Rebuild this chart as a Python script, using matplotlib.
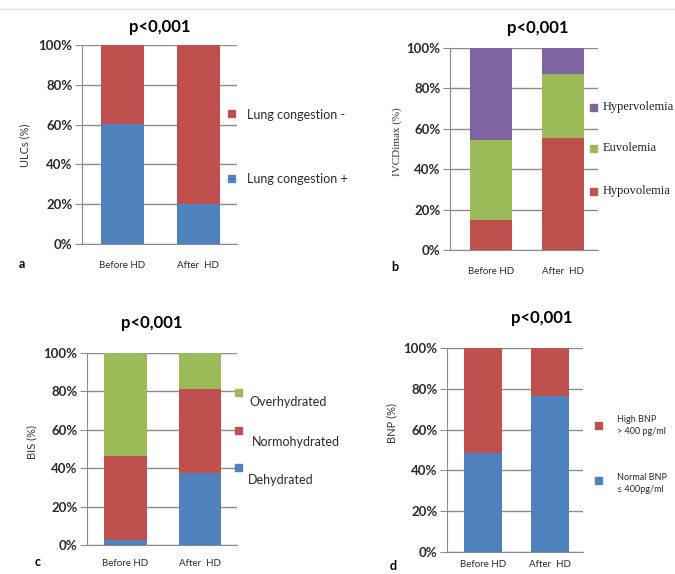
import matplotlib
matplotlib.use("Agg")
import matplotlib.pyplot as plt
from matplotlib.ticker import PercentFormatter
from matplotlib.lines import Line2D

plt.rcParams['font.family'] = ['Lato', 'DejaVu Sans']

BLUE = '#4F81BD'
RED = '#C0504D'
GREEN = '#9BBB59'
PURPLE = '#8064A2'

groups = ['Before HD', 'After  HD']

# a: lung ultrasound comets
ulc_pos = [60.5, 20.0]
ulc_neg = [39.5, 80.0]

# b: IVC diameter
ivc_hypo = [15.0, 55.5]
ivc_euvo = [39.5, 31.5]
ivc_hyper = [45.5, 13.0]

# c: bioimpedance
bis_dehy = [2.5, 37.5]
bis_normo = [44.0, 43.5]
bis_over = [53.5, 19.0]

# d: BNP
bnp_normal = [48.5, 76.5]
bnp_high = [51.5, 23.5]

W, H = 675, 574
fig = plt.figure(figsize=(W / 100, H / 100), dpi=100)
fig.add_artist(Line2D([0, 1], [1 - 9 / H, 1 - 9 / H], color='#e4e4e4', lw=1))


def px_axes(x0, y0, x1, y1):
    return fig.add_axes([x0 / W, 1 - y1 / H, (x1 - x0) / W, (y1 - y0) / H])


def stacked(ax, layers, xlim, width, xpad):
    bottom = [0, 0]
    for vals, col in layers:
        ax.bar(range(len(groups)), vals, width, bottom=bottom, color=col, zorder=3)
        bottom = [b + v for b, v in zip(bottom, vals)]
    ax.set_xlim(*xlim)
    ax.set_ylim(0, 100)
    ax.set_yticks(range(0, 101, 20))
    ax.yaxis.set_major_formatter(PercentFormatter(decimals=0))
    ax.grid(axis='y', color='#8c8c8c', lw=1, zorder=0)
    for s in ['top', 'right']:
        ax.spines[s].set_visible(False)
    for s in ['left', 'bottom']:
        ax.spines[s].set_color('#8c8c8c')
    ax.tick_params(axis='y', length=5, color='#8c8c8c', labelsize=9.5,
                   labelcolor='#2a2a2a', pad=2)
    for t in ax.get_yticklabels():
        t.set_fontweight('bold')
    ax.set_xticks(range(len(groups)))
    ax.set_xticklabels(groups, fontsize=7, color='#2a2a2a')
    ax.tick_params(axis='x', length=0, pad=xpad)


def ftext(x, y, s, **kw):
    fig.text(x / W, 1 - y / H, s, **kw)


def square(x, y, col, size=7):
    fig.add_artist(plt.Rectangle(((x - size / 2) / W, 1 - (y + size / 2) / H),
                                 size / W, size / H, color=col, transform=fig.transFigure))


# panel a
ax = px_axes(82, 45, 237, 244)
stacked(ax, [(ulc_pos, BLUE), (ulc_neg, RED)], (-0.533, 1.507), 0.566, 12)
ftext(160, 27, 'p<0,001', fontsize=12, fontweight='bold', ha='center', va='center')
ftext(25, 145, 'ULCs (%)', fontsize=8, rotation=90, ha='center', va='center', color='#333333')
ftext(22, 264, 'a', fontsize=9, fontweight='bold', ha='center', va='center')
square(231, 113, RED)
ftext(247, 115, 'Lung congestion -', fontsize=9, va='center', color='#2a2a2a')
square(231, 178, BLUE)
ftext(247, 179, 'Lung congestion +', fontsize=9, va='center', color='#2a2a2a')

# panel b
ax = px_axes(450, 48, 598, 250)
stacked(ax, [(ivc_hypo, RED), (ivc_euvo, GREEN), (ivc_hyper, PURPLE)], (-0.569, 1.486), 0.57, 12)
ftext(538, 28, 'p<0,001', fontsize=12, fontweight='bold', ha='center', va='center')
ftext(397, 142, 'IVCDimax (%)', fontsize=8, rotation=90, ha='center', va='center',
      color='#333333', family='Liberation Serif')
ftext(395, 267, 'b', fontsize=9, fontweight='bold', ha='center', va='center')
for yy, col, lab in [(107, PURPLE, 'Hypervolemia'), (148, GREEN, 'Euvolemia'),
                     (191, RED, 'Hypovolemia')]:
    square(593, yy, col)
    ftext(603, yy, lab, fontsize=9, va='center', color='#222222', family='Liberation Serif')

# panel c
ax = px_axes(87, 353, 237, 545)
stacked(ax, [(bis_dehy, BLUE), (bis_normo, RED), (bis_over, GREEN)], (-0.517, 1.497), 0.57, 10)
ftext(152, 323, 'p<0,001', fontsize=12, fontweight='bold', ha='center', va='center')
ftext(32, 442, 'BIS (%)', fontsize=8, rotation=90, ha='center', va='center', color='#333333')
ftext(38, 562, 'c', fontsize=9, fontweight='bold', ha='center', va='center')
for yy, ty, tx, col, lab in [(392, 402, 249, GREEN, 'Overhydrated'),
                             (430, 442, 252, RED, 'Normohydrated'),
                             (467, 480, 248, BLUE, 'Dehydrated')]:
    square(238, yy, col)
    ftext(tx, ty, lab, fontsize=9, va='center', color='#2a2a2a')

# panel d
ax = px_axes(447, 348, 583, 552)
stacked(ax, [(bnp_normal, BLUE), (bnp_high, RED)], (-0.537, 1.49), 0.567, 6)
ftext(542, 318, 'p<0,001', fontsize=12, fontweight='bold', ha='center', va='center')
ftext(392, 423, 'BNP (%)', fontsize=8, rotation=90, ha='center', va='center', color='#333333')
ftext(393, 566, 'd', fontsize=9, fontweight='bold', ha='center', va='center')
square(598, 425, RED)
ftext(617, 420, 'High BNP', fontsize=6.5, va='center', color='#2a2a2a')
ftext(617, 432, '> 400 pg/ml', fontsize=6.5, va='center', color='#2a2a2a')
square(598, 480, BLUE)
ftext(617, 477, 'Normal BNP', fontsize=6.5, va='center', color='#2a2a2a')
ftext(617, 489, '≤ 400pg/ml', fontsize=6.5, va='center', color='#2a2a2a')

fig.savefig('out.png', dpi=100)
